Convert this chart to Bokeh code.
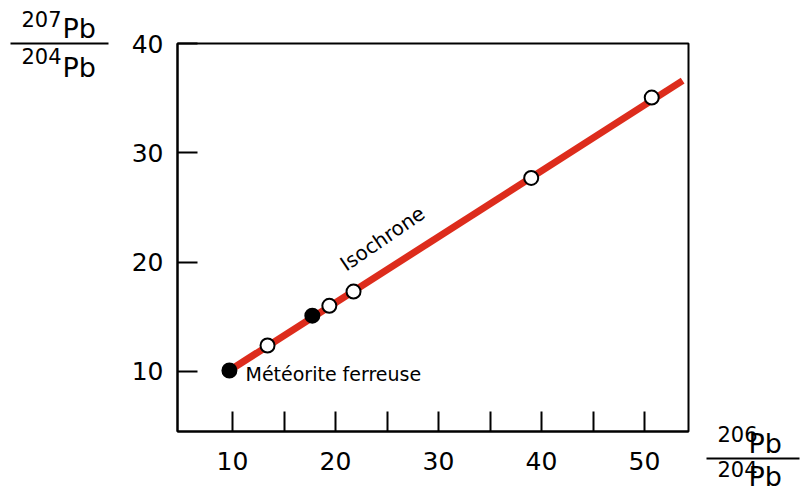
from bokeh.plotting import figure
from bokeh.models import Range1d, FixedTicker, Label, BoxAnnotation, LinearAxis
from bokeh.embed import file_html
from bokeh.resources import INLINE

# ---- data ----
open_x = [13.4, 19.4, 21.75, 39.0, 50.7]
open_y = [12.37, 16.0, 17.3, 27.7, 35.05]
filled_x = [9.7, 17.75]
filled_y = [10.08, 15.1]
iso_x = [9.7, 53.7]
iso_y = [10.08, 36.6]
x_ticks = [10, 20, 30, 40, 50]
x_minor = [15, 25, 35, 45]
y_ticks = [10, 20, 30, 40]

XL, XR = 4.66, 54.27
YB, YT = 4.5, 40.0
FL, FR, FT, FB = 177, 688, 43, 431  # plot box in canvas px
W, H = 802, 493

def X(px):
    return XL + (px - FL) * (XR - XL) / (FR - FL)

def Y(py):
    return YB + (FB - py) * (YT - YB) / (FB - FT)

p = figure(width=W, height=H, min_border=0,
           x_range=Range1d(X(0), X(W)), y_range=Range1d(Y(H), Y(0)),
           x_axis_type=None, y_axis_type=None,
           output_backend="svg", toolbar_location=None)
p.grid.visible = False
p.background_fill_color = "white"
p.border_fill_color = "white"
p.outline_line_color = None

FONT = "DejaVu Sans"
xaxis = LinearAxis(fixed_location=YB, bounds=(XL, XR),
                   ticker=FixedTicker(ticks=x_ticks, minor_ticks=x_minor))
yaxis = LinearAxis(fixed_location=XL, bounds=(YB, YT),
                   ticker=FixedTicker(ticks=y_ticks))
for ax in (xaxis, yaxis):
    ax.axis_line_width = 2
    ax.axis_line_color = "black"
    ax.major_tick_line_width = 2
    ax.minor_tick_line_width = 2
    ax.major_tick_in = 20
    ax.major_tick_out = 0
    ax.minor_tick_in = 20
    ax.minor_tick_out = 0
    ax.major_label_text_font = FONT
    ax.major_label_text_font_size = "25px"
    ax.major_label_text_color = "black"
xaxis.major_label_standoff = 20
yaxis.major_label_standoff = 14
p.add_layout(xaxis, "below")
p.add_layout(yaxis, "left")

# plot box (top and right edges)
p.add_layout(BoxAnnotation(left=XL, right=XR, bottom=YB, top=YT,
                           fill_alpha=0, line_color="black", line_width=2, line_alpha=1))

p.line(iso_x, iso_y, line_color="#dd2c1c", line_width=7)
p.scatter(open_x, open_y, size=14, fill_color="white", line_color="black", line_width=2)
p.scatter(filled_x, filled_y, size=14, fill_color="black", line_color="black", line_width=2)

p.add_layout(Label(x=X(245), y=Y(373), text="Météorite ferreuse", text_font=FONT,
                   text_font_size="19px", text_baseline="middle", text_color="black"))
p.add_layout(Label(x=X(382), y=Y(238), text="Isochrone", text_font=FONT,
                   text_font_size="20px", text_baseline="middle", text_align="center",
                   angle=0.6, text_color="black"))

SHIFT = 10

def put(px, py, txt, size):
    p.add_layout(Label(x=X(px), y=Y(py - SHIFT), text=txt, text_font=FONT, text_font_size=size,
                       text_baseline="alphabetic", text_color="black"))

def hline(x0, x1, py):
    p.add_layout(BoxAnnotation(left=X(x0), right=X(x1), bottom=Y(py + 1), top=Y(py - 1),
                               fill_color="black", fill_alpha=1, line_color="black",
                               line_width=0))

# y axis label: 207Pb / 204Pb
put(21, 28, "207", "21px")
put(62, 38, "Pb", "27px")
hline(10, 108, 43)
put(21, 65, "204", "21px")
put(62, 77, "Pb", "27px")

# x axis label: 206Pb / 204Pb
put(717, 443, "206", "21px")
put(748, 453, "Pb", "27px")
hline(706, 799, 458)
put(717, 478, "204", "21px")
put(748, 486, "Pb", "27px")

open("out.html", "w").write(file_html(p, INLINE))
